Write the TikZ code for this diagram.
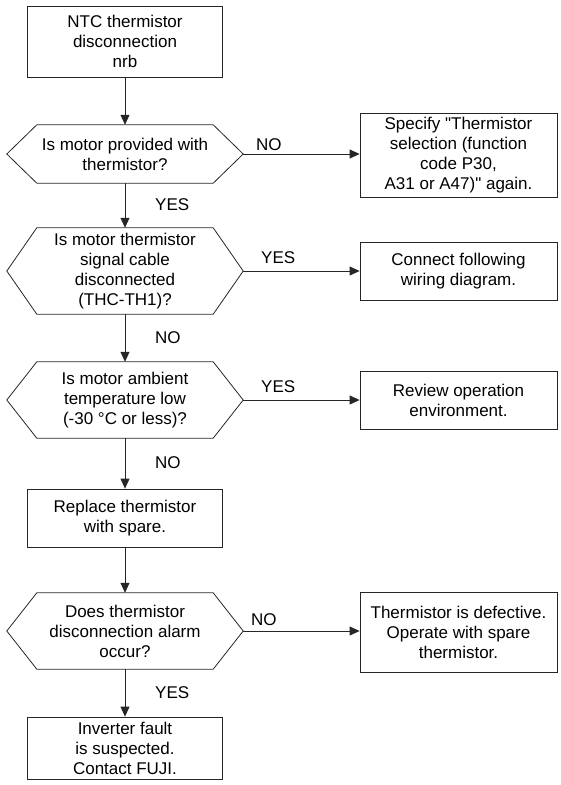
\documentclass[tikz,border=0pt]{standalone}
\usepackage{fontspec}
\setmainfont{Liberation Sans}
\usetikzlibrary{arrows.meta}
\newcommand\straightquote{\XeTeXglyph\numexpr\XeTeXcharglyph"22\relax}
\tikzset{
  line/.style={draw=black!85, line width=0.8pt},
  arr/.style={line, -{Triangle[length=10pt,width=9pt]}},
  txt/.style={font=\fontsize{17}{20}\selectfont, align=center, inner sep=0pt},
  box/.style={txt, line, minimum width=195pt},
  rbox/.style={txt, line, minimum width=197pt},
  hexn/.style={txt, minimum width=236pt},
  lbl/.style={font=\fontsize{17}{20}\selectfont, inner sep=0pt, anchor=west}
}
\newcommand\drawhex[1]{\draw[line] ([xshift=30pt]#1.north west) -- ([xshift=-30pt]#1.north east) -- (#1.east) -- ([xshift=-30pt]#1.south east) -- ([xshift=30pt]#1.south west) -- (#1.west) -- cycle;}
\begin{document}
\begin{tikzpicture}[x=1pt,y=-1pt]
\useasboundingbox (0,0) rectangle (561,785);
% main column
\node[box, minimum height=71pt] (start) at (125,41.5) {NTC thermistor\\disconnection\\nrb};
\node[hexn, minimum height=58pt] (h1) at (125,154) {Is motor provided with\\thermistor?};
\node[hexn, minimum height=86pt] (h2) at (125,271) {Is motor thermistor\\signal cable\\disconnected\\(THC-TH1)?};
\node[hexn, minimum height=76pt] (h3) at (125,400) {Is motor ambient\\temperature low\\(-30 °C or less)?};
\node[box, minimum height=58pt] (rep) at (125,518) {Replace thermistor\\with spare.};
\node[hexn, minimum height=76pt] (h4) at (125,631) {Does thermistor\\disconnection alarm\\occur?};
\node[box, minimum height=62pt] (fin) at (125,748) {Inverter fault\\is suspected.\\Contact FUJI.};
\drawhex{h1}
\drawhex{h2}
\drawhex{h3}
\drawhex{h4}
% right column
\node[rbox, minimum height=84pt] (r1) at (458.5,155) {Specify \straightquote Thermistor\\selection (function\\code P30,\\A31 or A47)\straightquote\ again.};
\node[rbox, minimum height=58pt] (r2) at (458.5,271) {Connect following\\wiring diagram.};
\node[rbox, minimum height=58pt] (r3) at (458.5,400) {Review operation\\environment.};
\node[rbox, minimum height=80pt] (r4) at (458.5,632) {Thermistor is defective.\\Operate with spare\\thermistor.};
% vertical arrows
\draw[arr] (start) -- (h1);
\draw[arr] (h1) -- (h2);
\draw[arr] (h2) -- (h3);
\draw[arr] (h3) -- (rep);
\draw[arr] (rep) -- (h4);
\draw[arr] (h4) -- (fin);
% horizontal arrows
\draw[arr] (h1.east) -- (h1.east -| r1.west);
\draw[arr] (h2.east) -- (h2.east -| r2.west);
\draw[arr] (h3.east) -- (h3.east -| r3.west);
\draw[arr] (h4.east) -- (h4.east -| r4.west);
% labels
\node[lbl] (l1) at (155,205) {YES};
\node[lbl] (l2) at (155,338) {NO};
\node[lbl] (l3) at (155,463) {NO};
\node[lbl] (l4) at (155,693) {YES};
\node[lbl] (l5) at (256,145) {NO};
\node[lbl] (l6) at (261,258) {YES};
\node[lbl] (l7) at (261,387) {YES};
\node[lbl] (l8) at (251,620) {NO};
\end{tikzpicture}
\end{document}
